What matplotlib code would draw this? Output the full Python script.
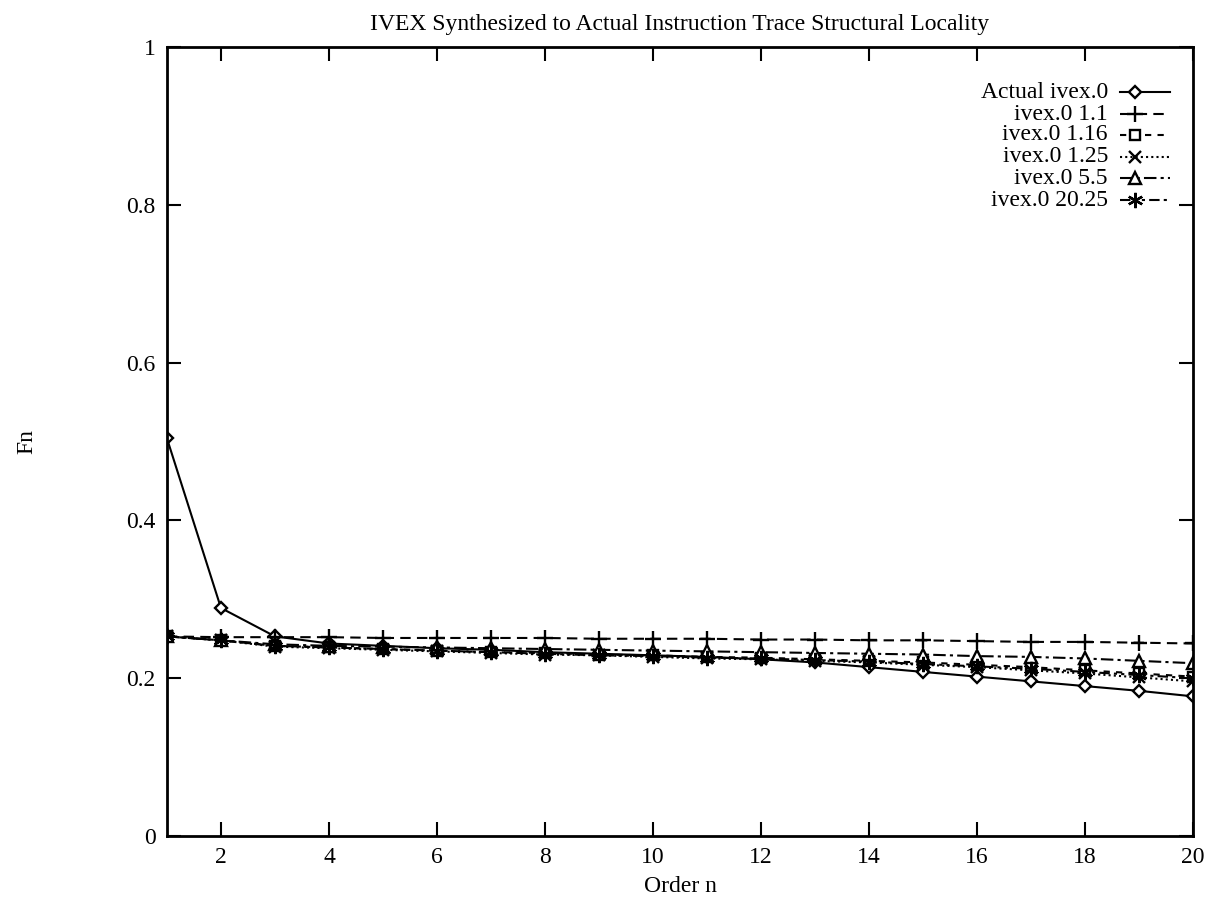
import matplotlib
matplotlib.use("Agg")
import matplotlib.pyplot as plt
from matplotlib.lines import Line2D

plt.rcParams['font.family'] = ['Liberation Serif', 'DejaVu Serif']

order_n = list(range(1, 21))

actual_ivex0 = [0.504, 0.289, 0.253, 0.244, 0.241, 0.238, 0.236, 0.233, 0.231, 0.229,
                0.227, 0.224, 0.220, 0.214, 0.208, 0.202, 0.196, 0.190, 0.184, 0.177]
ivex0_1_1 = [0.253, 0.252, 0.252, 0.252, 0.251, 0.251, 0.251, 0.251, 0.250, 0.250,
             0.250, 0.249, 0.249, 0.248, 0.248, 0.247, 0.246, 0.246, 0.245, 0.244]
ivex0_1_16 = [0.253, 0.248, 0.241, 0.239, 0.237, 0.235, 0.233, 0.232, 0.230, 0.229,
              0.227, 0.226, 0.224, 0.222, 0.220, 0.217, 0.214, 0.210, 0.206, 0.202]
ivex0_1_25 = [0.253, 0.248, 0.240, 0.238, 0.236, 0.234, 0.232, 0.230, 0.229, 0.227,
              0.225, 0.224, 0.222, 0.220, 0.217, 0.214, 0.210, 0.206, 0.201, 0.196]
ivex0_5_5 = [0.253, 0.248, 0.243, 0.241, 0.240, 0.239, 0.238, 0.237, 0.236, 0.235,
             0.234, 0.233, 0.232, 0.231, 0.230, 0.228, 0.227, 0.225, 0.222, 0.219]
ivex0_20_25 = [0.253, 0.248, 0.241, 0.239, 0.237, 0.235, 0.233, 0.231, 0.229, 0.228,
               0.226, 0.225, 0.223, 0.221, 0.218, 0.215, 0.212, 0.208, 0.204, 0.200]

labels = ["Actual ivex.0", "ivex.0 1.1", "ivex.0 1.16", "ivex.0 1.25",
          "ivex.0 5.5", "ivex.0 20.25"]
series = [actual_ivex0, ivex0_1_1, ivex0_1_16, ivex0_1_25, ivex0_5_5, ivex0_20_25]
x_ticks = [2, 4, 6, 8, 10, 12, 14, 16, 18, 20]
y_ticks = [0, 0.2, 0.4, 0.6, 0.8, 1]
y_ticklabels = ["0", "0.2", "0.4", "0.6", "0.8", "1"]

styles = [
    dict(linestyle='-', marker='D', markersize=6.5, mfc='white'),
    dict(linestyle=(0, (5, 3)), marker='+', markersize=11),
    dict(linestyle=(0, (3, 3)), marker='s', markersize=7, mfc='white'),
    dict(linestyle=(0, (1, 1.5)), marker='x', markersize=9),
    dict(linestyle=(0, (6, 2, 1.5, 2)), marker='^', markersize=8, mfc='white'),
    dict(linestyle=(0, (5, 2, 1.5, 2, 1.5, 2)), marker=(6, 2, 0), markersize=11),
]

fig = plt.figure(figsize=(12.15, 9.09), dpi=100)
ax = fig.add_axes([0.1374, 0.0803, 0.8445, 0.868])

for ys, lab, st in zip(series, labels, styles):
    ax.plot(order_n, ys, color='black', linewidth=1.5, mec='black', mew=1.7, **st)

ax.set_xlim(1, 20)
ax.set_ylim(0, 1)
ax.set_xticks(x_ticks)
ax.set_yticks(y_ticks)
ax.set_yticklabels(y_ticklabels)
ax.tick_params(direction='in', length=10, width=1.5, top=True, right=True,
               labelsize=17, pad=8)
for sp in ax.spines.values():
    sp.set_linewidth(2)

ax.set_title("IVEX Synthesized to Actual Instruction Trace Structural Locality",
             fontsize=17, pad=12)
ax.set_xlabel("Order n", fontsize=17, labelpad=6)
ax.set_ylabel("Fn", fontsize=17, labelpad=64)

# manual legend (label text right-aligned, sample to the right)
fig_w, fig_h = 1215, 909
x_text = 1108
x_l0, x_l1 = 1120, 1170
row_y = [92, 114, 135, 157, 178, 200]
for lab, st, yy in zip(labels, styles, row_y):
    fy = 1 - yy / fig_h
    fig.text(x_text / fig_w, fy, lab, ha='right', va='center', fontsize=17)
    ln = Line2D([x_l0 / fig_w, x_l1 / fig_w], [fy, fy], transform=fig.transFigure,
                color='black', linewidth=1.5, linestyle=st['linestyle'])
    fig.add_artist(ln)
    mk = Line2D([(x_l0 + 15) / fig_w], [fy], transform=fig.transFigure,
                linestyle='none', marker=st['marker'], markersize=st['markersize'],
                mfc=st.get('mfc', 'black'), mec='black', mew=1.7)
    fig.add_artist(mk)

fig.savefig("out.png", dpi=100)
